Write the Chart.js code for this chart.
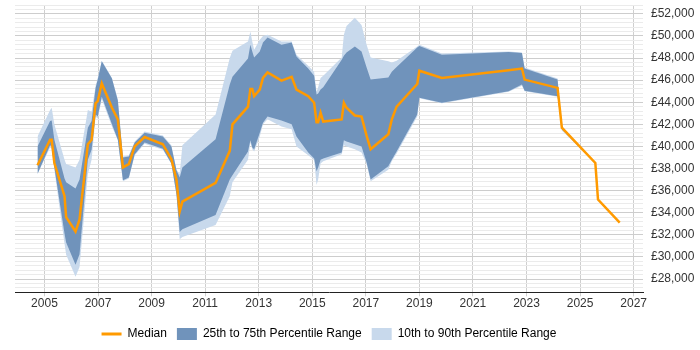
<!doctype html>
<html lang="en">
<head>
	<meta charset="UTF-8">
	<title>Salary trend</title>
	<script src="https://cdn.jsdelivr.net/npm/chart.js@4"></script>
	<style>
		html, body { margin: 0; padding: 0; background: #fff; }
	</style>
</head>
<body>
	<canvas id="chart" width="700" height="350"></canvas>
	<script>
		// data (decimal years, GBP)
		const years = [2004.74, 2005.21, 2005.27, 2005.37, 2005.75, 2005.81, 2006.16, 2006.31, 2006.62, 2006.76,
			2006.91, 2006.99, 2007.14, 2007.52, 2007.74, 2007.93, 2008.15, 2008.37, 2008.74, 2009.42,
			2009.74, 2009.93, 2010.05, 2010.15, 2011.39, 2011.92, 2012.02, 2012.60, 2012.69, 2012.76,
			2012.83, 2013.04, 2013.16, 2013.33, 2013.85, 2014.23, 2014.41, 2014.85, 2015.07, 2015.16,
			2015.22, 2015.31, 2015.41, 2016.10, 2016.18, 2016.28, 2016.59, 2016.84, 2017.03, 2017.18,
			2017.84, 2017.97, 2018.15, 2018.92, 2019.00, 2019.84, 2022.33, 2022.83, 2022.93, 2024.16,
			2024.32, 2025.57, 2025.67, 2026.48];

		const median = [38300, 40600, 40600, 38500, 35500, 33600, 32300, 33400, 40200, 40600,
			43900, 44100, 45700, 43500, 42450, 38100, 38400, 40000, 40850, 40200,
			38850, 37000, 34100, 35000, 36700, 39600, 42000, 43600, 45200, 45200,
			44550, 45150, 46200, 46700, 45950, 46300, 45150, 44550, 43950, 42200,
			42200, 43050, 42250, 42450, 43950, 43500, 42800, 42700, 40950, 39750,
			41100, 42450, 43600, 45650, 46850, 46200, 46900, 47050, 46050, 45300,
			41700, 38500, 35200, 33100];

		const p75 = [40000, 42300, 42350, 40600, 37100, 36750, 36200, 37000, 41700, 42300,
			45300, 46050, 47700, 46150, 44150, 39000, 39100, 40350, 41250, 40900,
			40000, 37850, 37200, 38100, 40650, 45600, 46300, 47950, 49200, 48600,
			48050, 48600, 49400, 49850, 49200, 49400, 48150, 47050, 46400, 44700,
			44800, 45150, 45350, 47850, 48200, 48500, 49050, 48600, 47150, 46050,
			46250, 46750, 47200, 48950, 49100, 48300, 48550, 48450, 47050, 46050,
			41750, 38500, 35200, 33100];

		const p25 = [37500, 40100, 40000, 38100, 32100, 31300, 29300, 30250, 38800, 39700,
			42900, 42700, 44500, 42000, 40600, 36950, 37200, 39300, 40350, 39800,
			38450, 35650, 32250, 32500, 33800, 37000, 37400, 39550, 40550, 39900,
			39750, 41250, 42150, 42700, 42350, 42000, 40900, 39450, 38900, 37750,
			38100, 38800, 38900, 39450, 40550, 40450, 40200, 40000, 38550, 37000,
			38200, 38800, 39550, 42900, 44400, 43950, 45000, 45600, 45050, 44550,
			41550, 38500, 35200, 33100];

		const p90 = [40900, 43300, 43500, 42000, 38800, 38400, 38100, 38800, 43300, 43150,
			45500, 46200, 47750, 46200, 44250, 39100, 39200, 40450, 41350, 41000,
			40100, 37900, 37500, 40100, 42900, 48000, 48650, 49500, 50400, 49500,
			48750, 49650, 50000, 50100, 49500, 49500, 48300, 47300, 46750, 44950,
			45350, 46200, 46400, 48050, 50100, 50900, 51650, 51000, 49200, 48050,
			47700, 47600, 47750, 49050, 49200, 48400, 48600, 48500, 47150, 46150,
			41800, 38500, 35200, 33100];

		const p10 = [37500, 39900, 39800, 37900, 31200, 30200, 28200, 29100, 37500, 38800,
			42700, 42500, 44300, 41800, 40550, 36850, 37100, 39200, 40250, 39700,
			38400, 35600, 31600, 31800, 32900, 35500, 36750, 38800, 40350, 39750,
			39550, 40900, 42000, 42450, 41800, 41550, 40000, 39200, 38800, 36500,
			37000, 38450, 38650, 39300, 40100, 40000, 39750, 39450, 38400, 36850,
			37900, 38650, 39350, 42700, 44350, 43900, 44950, 45500, 45000, 44500,
			41450, 38500, 35200, 33100];

		const yearTicks = [2005, 2007, 2009, 2011, 2013, 2015, 2017, 2019, 2021, 2023, 2025, 2027];
		const salaryTicks = [28000, 30000, 32000, 34000, 36000, 38000, 40000, 42000, 44000, 46000, 48000, 50000, 52000];
		const minorStep = 400;

		const ORANGE = '#ff9a00';
		const DARK = '#7093bb';
		const LIGHT = '#c8d9ec';
		const FONT = { family: '"Liberation Sans", Arial, sans-serif', size: 12 };

		Chart.defaults.font.family = FONT.family;
		Chart.defaults.font.size = 12;
		Chart.defaults.color = '#333';

		const pts = vals => years.map((x, i) => ({ x: x, y: vals[i] }));

		// horizontal grid: labelled ticks plus the light lines in between
		const yMin = 26800, yMax = 52800;
		const gridValues = [];
		for (let v = yMin; v <= yMax; v += minorStep) gridValues.push(v);

		const ctx = document.getElementById('chart').getContext('2d');
		const chart = new Chart(ctx, {
			type: 'line',
			data: {
				datasets: [
					{ label: 'Median', data: pts(median), borderColor: ORANGE, borderWidth: 2.5, fill: false },
					{ label: '25th to 75th Percentile Range', data: pts(p75), borderColor: 'transparent', borderWidth: 0, backgroundColor: DARK, fill: '+1' },
					{ label: 'p25', data: pts(p25), borderColor: 'transparent', borderWidth: 0, fill: false },
					{ label: '10th to 90th Percentile Range', data: pts(p90), borderColor: 'transparent', borderWidth: 0, backgroundColor: LIGHT, fill: '+1' },
					{ label: 'p10', data: pts(p10), borderColor: 'transparent', borderWidth: 0, fill: false },
				],
			},
			options: {
				responsive: false,
				animation: false,
				devicePixelRatio: 1,
				layout: { padding: { left: 15, top: 5, right: 0, bottom: 0 } },
				elements: { point: { radius: 0 }, line: { tension: 0 } },
				plugins: {
					tooltip: { enabled: false },
					legend: {
						position: 'bottom',
						fullSize: false,
						labels: {
							usePointStyle: true,
							pointStyleWidth: 20,
							boxHeight: 12,
							padding: 10,
							color: '#333',
							font: FONT,
							generateLabels: () => [
								{ text: 'Median', pointStyle: 'line', strokeStyle: ORANGE, fillStyle: ORANGE, lineWidth: 3, datasetIndex: 0 },
								{ text: '25th to 75th Percentile Range', pointStyle: 'rect', strokeStyle: DARK, fillStyle: DARK, lineWidth: 0, datasetIndex: 1 },
								{ text: '10th to 90th Percentile Range', pointStyle: 'rect', strokeStyle: LIGHT, fillStyle: LIGHT, lineWidth: 0, datasetIndex: 3 },
							],
						},
					},
				},
				scales: {
					x: {
						type: 'linear',
						min: 2003.9,
						max: 2027.35,
						afterBuildTicks: s => { s.ticks = yearTicks.map(v => ({ value: v })); },
						afterFit: s => { s.height = 25.7; s.paddingLeft = 0; s.paddingRight = 0; },
						ticks: { callback: v => String(v), autoSkip: false, maxRotation: 0, padding: 0, color: '#333', font: FONT },
						grid: { color: '#cfcfcf', tickLength: 4 },
						border: { color: '#222', width: 1 },
					},
					y: {
						position: 'right',
						min: yMin,
						max: yMax,
						afterBuildTicks: s => { s.ticks = gridValues.map(v => ({ value: v })); },
						afterFit: s => { s.width = 57; s.paddingTop = 0; s.paddingBottom = 0; },
						ticks: {
							autoSkip: false,
							padding: 8,
							color: '#333',
							font: FONT,
							callback: v => salaryTicks.includes(v) ? '£' + v.toLocaleString('en-GB') : '',
						},
						grid: {
							drawTicks: false,
							color: c => (c.tick && salaryTicks.includes(c.tick.value)) ? '#cdcdcd' : '#ebebeb',
						},
						border: { display: false },
					},
				},
			},
		});
	</script>
</body>
</html>
